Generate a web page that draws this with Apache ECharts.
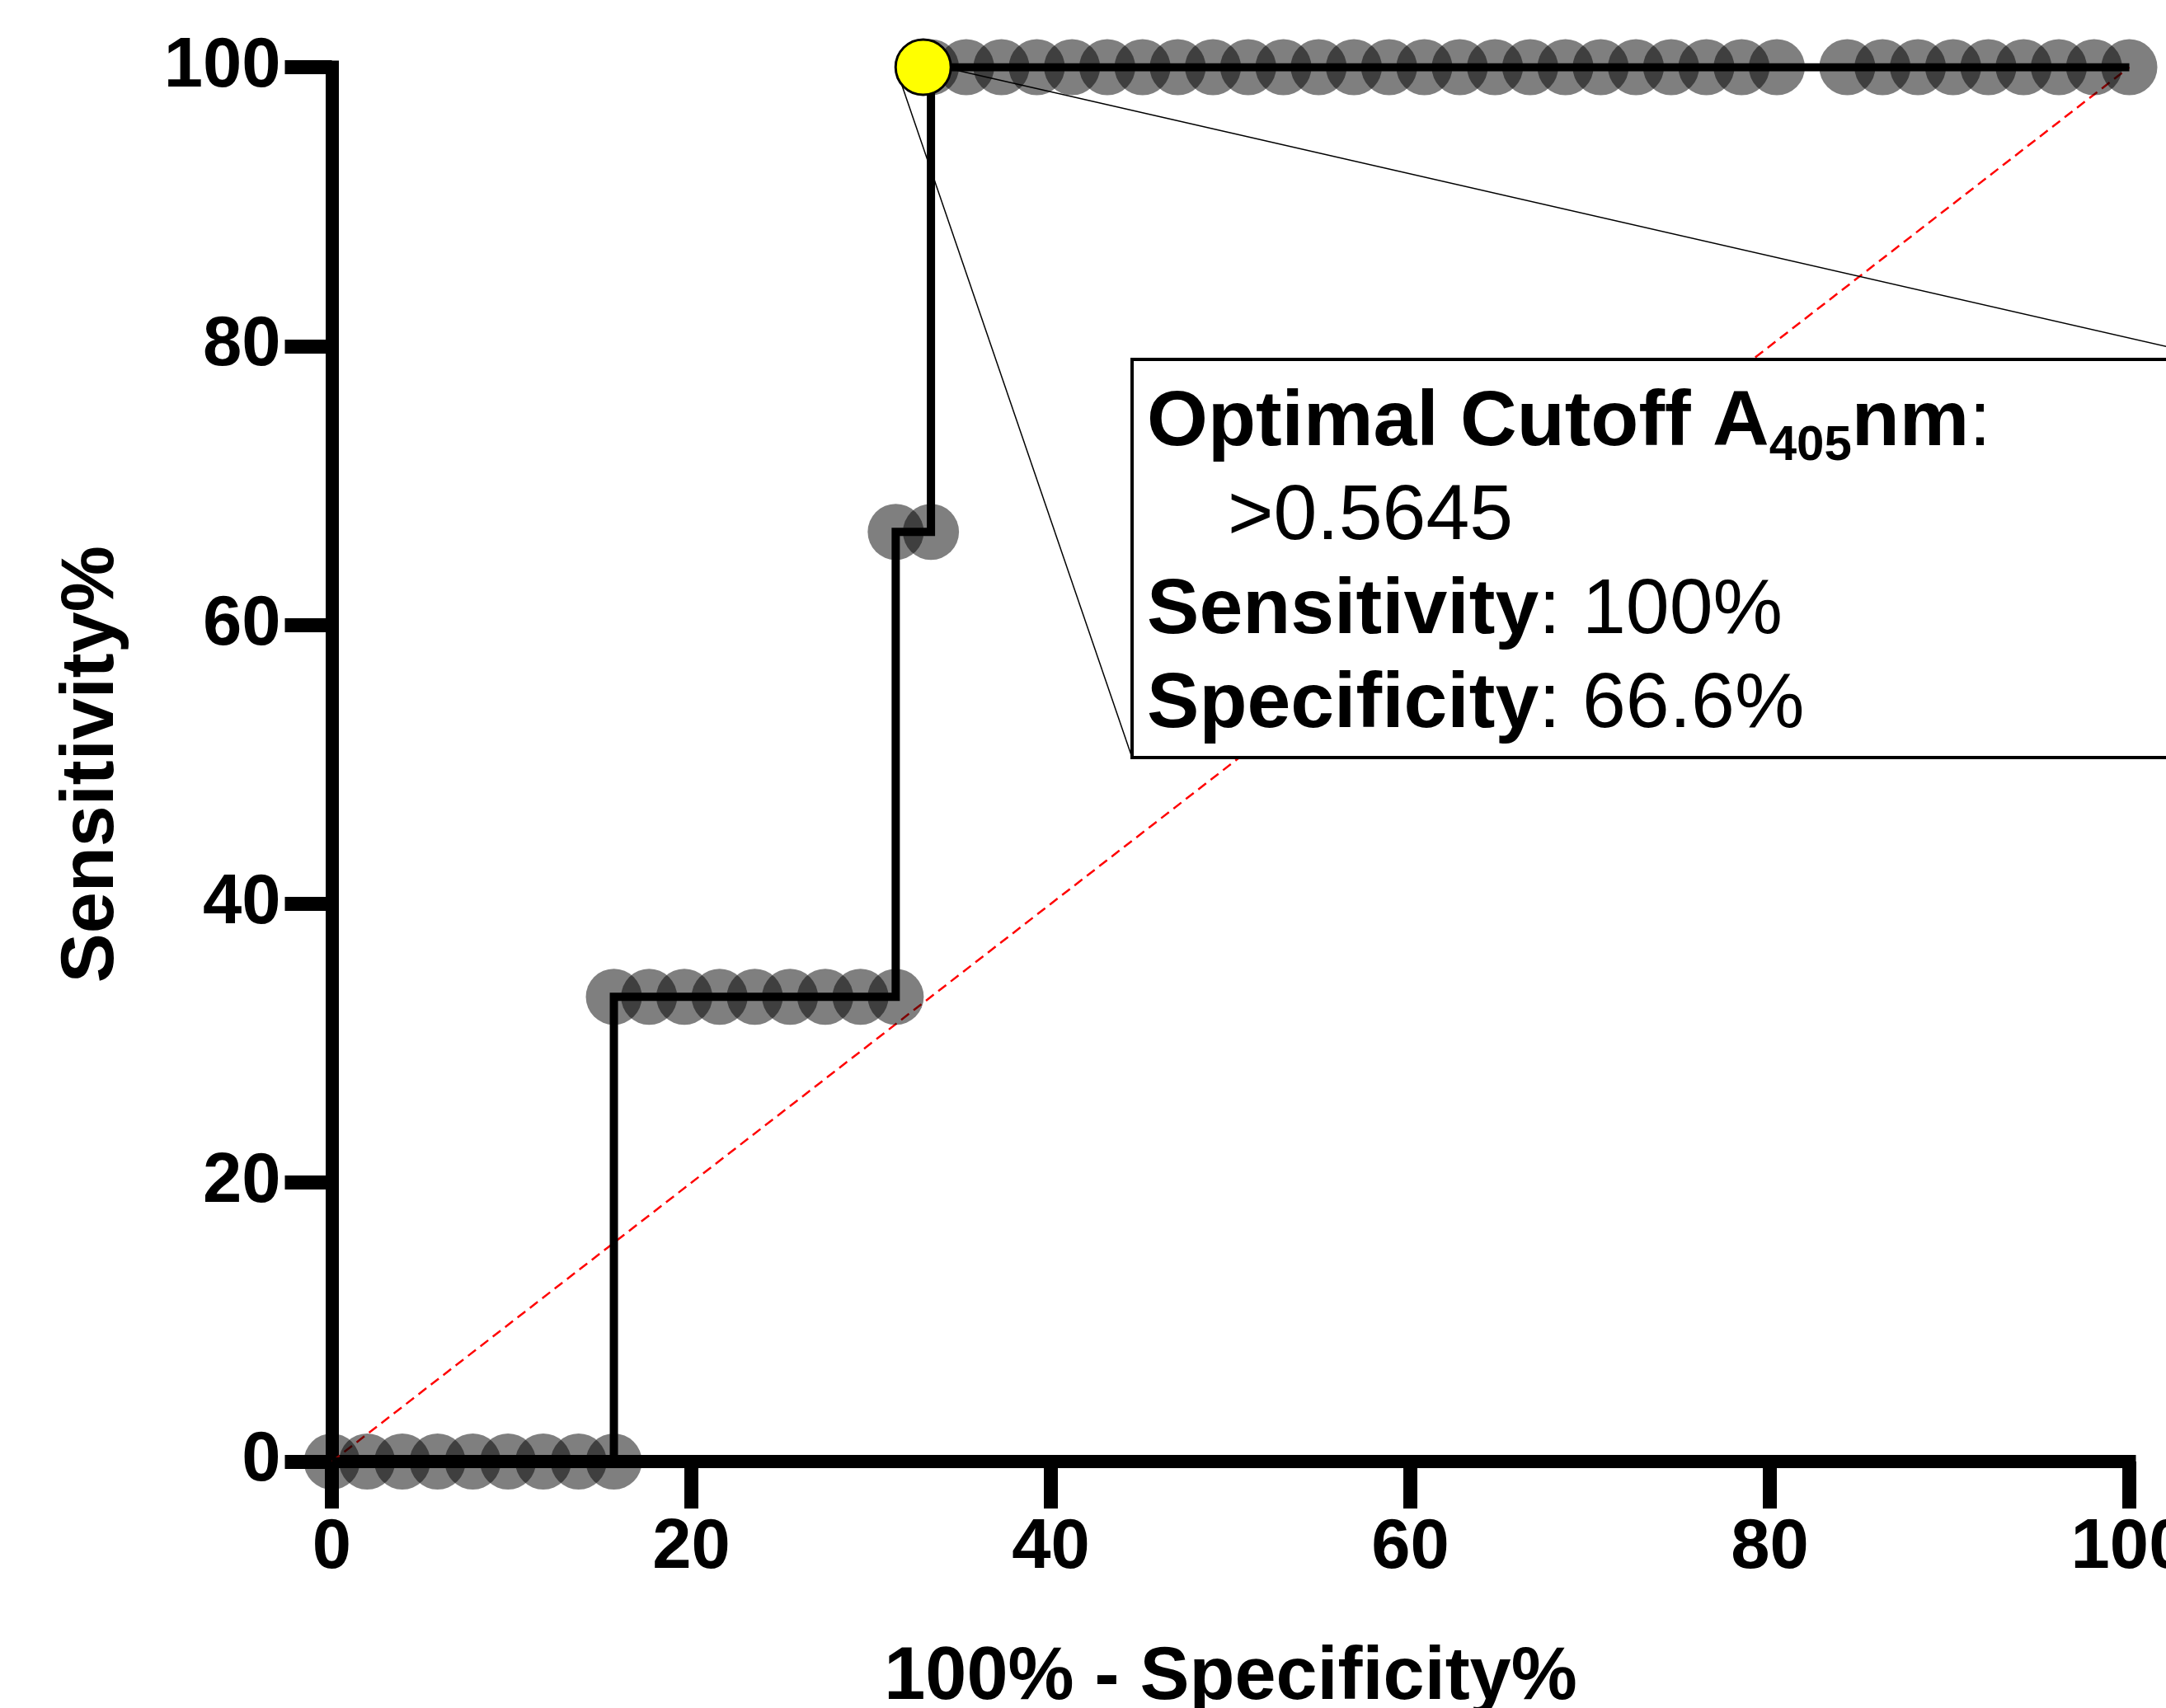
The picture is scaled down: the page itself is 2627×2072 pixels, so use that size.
<!DOCTYPE html>
<html>
<head>
<meta charset="utf-8">
<script src="https://cdn.jsdelivr.net/npm/echarts@6/dist/echarts.min.js"></script>
<style>
  html, body { margin: 0; padding: 0; background: #fff; }
  #rocChart { width: 2627px; height: 2072px; }
</style>
</head>
<body>
<div id="rocChart"></div>
<script>
let rocChart = echarts.init(document.getElementById('rocChart'));
let fontName = 'Liberation Sans, Arial, sans-serif';

// axis ticks (both axes run 0..100 in steps of 20)
let xTicks = [0, 20, 40, 60, 80, 100];
let yTicks = [0, 20, 40, 60, 80, 100];

// ROC points: 100% - specificity% and sensitivity%
let rocX = [0, 1.96, 3.92, 5.88, 7.84, 9.80, 11.76, 13.73, 15.69,
  15.69, 17.65, 19.61, 21.57, 23.53, 25.49, 27.45, 29.41, 31.37,
  31.37, 33.33,
  33.33, 35.29, 37.25, 39.22, 41.18, 43.14, 45.10, 47.06, 49.02, 50.98, 52.94, 54.90, 56.86,
  58.82, 60.78, 62.75, 64.71, 66.67, 68.63, 70.59, 72.55, 74.51, 76.47, 78.43, 80.39,
  84.31, 86.27, 88.24, 90.20, 92.16, 94.12, 96.08, 98.04, 100];
let rocY = [0, 0, 0, 0, 0, 0, 0, 0, 0,
  33.33, 33.33, 33.33, 33.33, 33.33, 33.33, 33.33, 33.33, 33.33,
  66.67, 66.67,
  100, 100, 100, 100, 100, 100, 100, 100, 100, 100, 100, 100, 100,
  100, 100, 100, 100, 100, 100, 100, 100, 100, 100, 100, 100,
  100, 100, 100, 100, 100, 100, 100, 100, 100];

// stepped ROC curve
let stepX = [0, 15.69, 15.69, 31.37, 31.37, 33.33, 33.33, 100];
let stepY = [0, 0, 33.33, 33.33, 66.67, 66.67, 100, 100];

// line of no discrimination
let chanceX = [0, 100];
let chanceY = [0, 100];

// optimal cutoff point (marker sits a little left of the step)
let cutoffX = [32.9];
let cutoffY = [100];

// annotation box corners and the two lines pointing to it
let boxX = [44.52, 105.2];
let boxY = [79.04, 50.49];
let calloutAX = [33.0, 105.2];
let calloutAY = [100.3, 79.04];
let calloutBX = [31.37, 44.52];
let calloutBY = [100, 50.49];

let boxText = '{b|Optimal Cutoff A}{sub|405}{b|nm}{n|:}\n' +
  '{ind|>0.5645}\n' +
  '{b|Sensitivity}{n|: 100%}\n' +
  '{b|Specificity}{n|: 66.6%}';

function pairs(xs, ys) {
  return xs.map((x, i) => [x, ys[i]]);
}

let boxRich = {
  b: { fontFamily: fontName, fontSize: 95, fontWeight: 'bold', lineHeight: 114, fill: '#000' },
  n: { fontFamily: fontName, fontSize: 95, fontWeight: 'normal', lineHeight: 114, fill: '#000' },
  sub: { fontFamily: fontName, fontSize: 60, fontWeight: 'bold', lineHeight: 48, verticalAlign: 'bottom', fill: '#000' },
  ind: { fontFamily: fontName, fontSize: 95, fontWeight: 'normal', lineHeight: 114, padding: [0, 0, 0, 98], fill: '#000' }
};

let options = {
  animation: false,
  backgroundColor: '#fff',
  grid: {
    left: 402.5,
    right: 44.5,
    top: 81.5,
    bottom: 299,
    outerBoundsMode: 'none'
  },
  xAxis: {
    type: 'value',
    min: xTicks[0],
    max: xTicks[xTicks.length - 1],
    interval: xTicks[1] - xTicks[0],
    name: '100% - Specificity%',
    nameLocation: 'middle',
    nameGap: 218,
    nameTextStyle: { fontFamily: fontName, fontSize: 90, fontWeight: 'bold', color: '#000' },
    axisLine: { lineStyle: { color: '#000', width: 16, cap: 'square' } },
    axisTick: { length: 57, lineStyle: { color: '#000', width: 17 } },
    axisLabel: { margin: 63, fontFamily: fontName, fontSize: 85, fontWeight: 'bold', color: '#000' },
    splitLine: { show: false }
  },
  yAxis: {
    type: 'value',
    min: yTicks[0],
    max: yTicks[yTicks.length - 1],
    interval: yTicks[1] - yTicks[0],
    name: 'Sensitivity%',
    nameLocation: 'middle',
    nameGap: 245,
    nameTextStyle: { fontFamily: fontName, fontSize: 90, fontWeight: 'bold', color: '#000' },
    axisLine: { lineStyle: { color: '#000', width: 16, cap: 'square' } },
    axisTick: { length: 57, lineStyle: { color: '#000', width: 17 } },
    axisLabel: { margin: 62, fontFamily: fontName, fontSize: 85, fontWeight: 'bold', color: '#000' },
    splitLine: { show: false }
  },
  series: [
    {
      name: 'chance',
      type: 'line',
      data: pairs(chanceX, chanceY),
      symbol: 'none',
      silent: true,
      z: 2,
      lineStyle: { color: '#ff0000', width: 2.5, type: [12, 7] }
    },
    {
      name: 'points',
      type: 'scatter',
      data: pairs(rocX, rocY),
      symbolSize: 68,
      silent: true,
      z: 3,
      itemStyle: { color: 'rgba(0,0,0,0.5)', opacity: 1 }
    },
    {
      name: 'roc',
      type: 'line',
      data: pairs(stepX, stepY),
      symbol: 'none',
      silent: true,
      z: 4,
      lineStyle: { color: '#000', width: 10, join: 'miter', cap: 'butt' }
    },
    {
      name: 'box',
      type: 'custom',
      data: [[boxX[0], boxY[0], boxX[1], boxY[1]]],
      silent: true,
      clip: false,
      z: 5,
      renderItem: function (params, api) {
        let p1 = api.coord([api.value(0), api.value(1)]);
        let p2 = api.coord([api.value(2), api.value(3)]);
        return {
          type: 'group',
          children: [
            {
              type: 'rect',
              shape: { x: p1[0], y: p1[1], width: p2[0] - p1[0], height: p2[1] - p1[1] },
              style: { fill: '#fff', stroke: '#000', lineWidth: 4 }
            },
            {
              type: 'text',
              x: p1[0] + 18,
              y: p1[1] + 21,
              style: {
                text: boxText,
                rich: boxRich,
                fontFamily: fontName,
                fontSize: 95,
                fill: '#000',
                align: 'left',
                verticalAlign: 'top'
              }
            }
          ]
        };
      }
    },
    {
      name: 'callouts',
      type: 'custom',
      data: [
        [calloutAX[0], calloutAY[0], calloutAX[1], calloutAY[1]],
        [calloutBX[0], calloutBY[0], calloutBX[1], calloutBY[1]]
      ],
      silent: true,
      clip: false,
      z: 6,
      renderItem: function (params, api) {
        let p1 = api.coord([api.value(0), api.value(1)]);
        let p2 = api.coord([api.value(2), api.value(3)]);
        return {
          type: 'line',
          shape: { x1: p1[0], y1: p1[1], x2: p2[0], y2: p2[1] },
          style: { stroke: '#000', lineWidth: 1.5 }
        };
      }
    },
    {
      name: 'cutoff',
      type: 'scatter',
      data: pairs(cutoffX, cutoffY),
      symbolSize: 67,
      silent: true,
      z: 7,
      itemStyle: { color: '#ffff00', borderColor: '#000', borderWidth: 3, opacity: 1 }
    }
  ]
};

rocChart.setOption(options);
</script>
</body>
</html>
